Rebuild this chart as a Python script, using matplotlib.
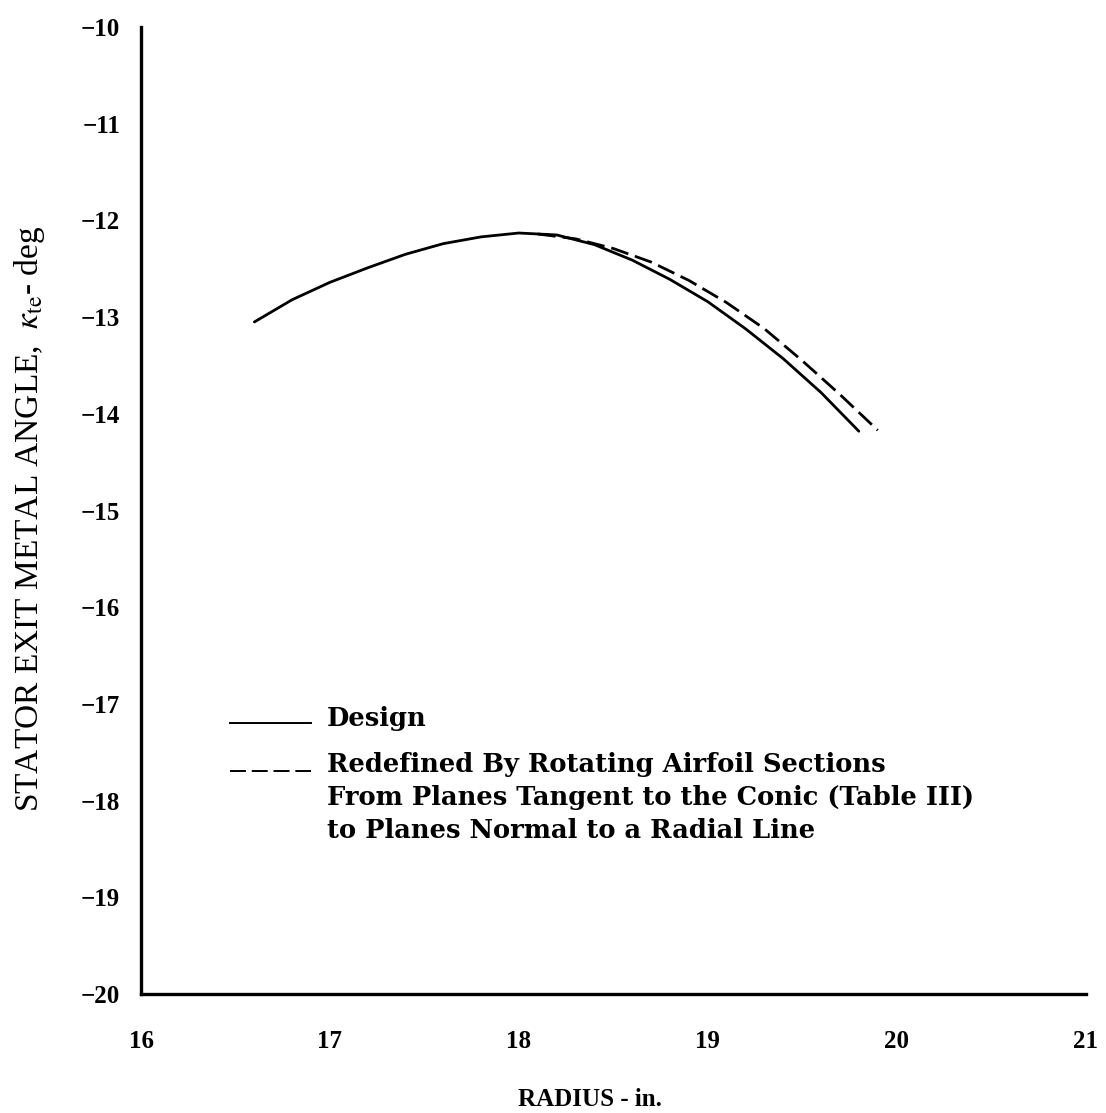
import numpy as np
from matplotlib import pyplot as plt

plt.rcParams['font.family'] = ['Liberation Serif', 'DejaVu Serif']
plt.rcParams['mathtext.fontset'] = 'stix'

# design exit metal angle vs radius
r_design = [16.6, 16.8, 17.0, 17.2, 17.4, 17.6, 17.8, 18.0, 18.2, 18.4,
            18.6, 18.8, 19.0, 19.2, 19.4, 19.6, 19.8]
k_design = [-13.05, -12.82, -12.64, -12.49, -12.35, -12.24, -12.17, -12.13, -12.15, -12.25,
            -12.41, -12.61, -12.84, -13.12, -13.43, -13.78, -14.18]

# after rotating the sections to planes normal to a radial line
r_redef = [18.1, 18.3, 18.5, 18.7, 18.9, 19.1, 19.3, 19.5, 19.7, 19.9]
k_redef = [-12.14, -12.19, -12.29, -12.43, -12.62, -12.85, -13.12, -13.45, -13.80, -14.17]

xticks = [16, 17, 18, 19, 20, 21]
yticks = [-10, -11, -12, -13, -14, -15, -16, -17, -18, -19, -20]

key_lines = ['Redefined By Rotating Airfoil Sections',
             'From Planes Tangent to the Conic (Table III)',
             'to Planes Normal to a Radial Line']

fig = plt.figure(figsize=(11.06, 11.13), dpi=100)
ax = fig.add_axes([0.1275, 0.1069, 0.854, 0.8688])

ax.plot(r_design, k_design, color='black', lw=2.0, solid_capstyle='round')
ax.plot(r_redef, k_redef, color='black', lw=2.0, dashes=(6.5, 2.5))

ax.set_xlim(16, 21)
ax.set_ylim(-20, -10)
ax.set_xticks(xticks)
ax.set_yticks(yticks)
ax.set_xticklabels([str(v) for v in xticks], fontsize=18, fontweight='bold')
ax.set_yticklabels(['\u2212' + str(-v) for v in yticks], fontsize=18, fontweight='bold')
ax.tick_params(length=0)
ax.tick_params(axis='x', pad=26)
ax.tick_params(axis='y', pad=15)

for s in ['top', 'right']:
    ax.spines[s].set_visible(False)
for s in ['left', 'bottom']:
    ax.spines[s].set_linewidth(2.4)

ax.set_xlabel('RADIUS - in.', fontsize=18, fontweight='bold')
ax.xaxis.set_label_coords(0.475, -0.097)
ax.set_ylabel(r'STATOR EXIT METAL ANGLE,  $\kappa_{\rm te}$- deg', fontsize=24)
ax.yaxis.set_label_coords(-0.10, 0.491)

# key
key_font = dict(family=['DejaVu Serif'], fontsize=18.5, fontweight='bold', va='center')
ax.plot([0.094, 0.180], [0.280, 0.280], transform=ax.transAxes, color='black', lw=1.4)
ax.text(0.197, 0.2854, 'Design', transform=ax.transAxes, **key_font)
ax.plot([0.094, 0.180], [0.2306, 0.2306], transform=ax.transAxes, color='black',
        lw=1.4, dashes=(8.2, 3))
for i, line in enumerate(key_lines):
    ax.text(0.197, 0.2378 - i * 0.0346, line, transform=ax.transAxes, **key_font)

fig.savefig('out.png', dpi=100, facecolor='white')
